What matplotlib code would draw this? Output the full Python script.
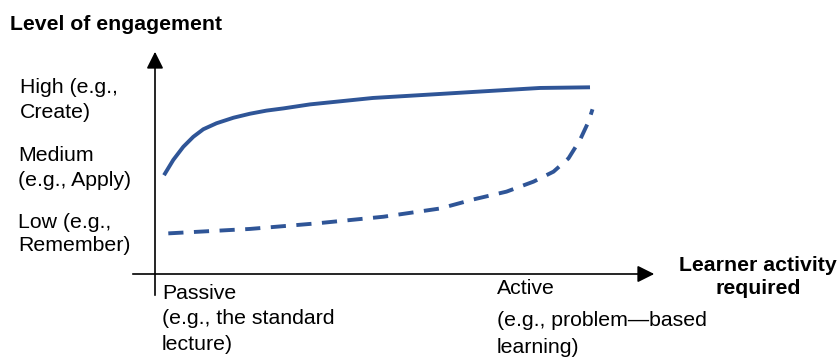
import matplotlib
matplotlib.use("Agg")
import matplotlib.pyplot as plt
from matplotlib.patches import FancyArrowPatch
from matplotlib.transforms import Affine2D

plt.rcParams['font.family'] = ['Liberation Sans', 'DejaVu Sans']

# Data (activity 0-100, engagement 0-100)
solid_x = [1.8, 3.66, 5.66, 7.66, 9.66, 12.3, 15.7, 19.0, 22.3, 25.7, 31.0, 43.6, 57.0, 63.6, 77.0, 87.0]
solid_y = [44.5, 51.4, 57.3, 61.8, 65.2, 67.9, 70.4, 72.2, 73.6, 74.6, 76.4, 79.3, 81.1, 82.0, 83.8, 84.1]
dash_x = [2.66, 19.0, 32.3, 45.7, 57.0, 63.7, 70.3, 75.7, 79.7, 82.7, 85.0, 86.7, 87.5]
dash_y = [18.3, 20.3, 22.8, 25.8, 29.5, 33.6, 37.1, 41.6, 46.1, 52.1, 60.4, 68.6, 74.2]

y_labels = ["High (e.g.,\nCreate)", "Medium\n(e.g., Apply)", "Low (e.g.,\nRemember)"]
x_labels = ["Passive\n(e.g., the standard\nlecture)", "Active", "(e.g., problem\u2014based\nlearning)"]
y_title = "Level of engagement"
x_title = "Learner activity\nrequired"

W, H = 838, 359
fig = plt.figure(figsize=(W/100, H/100), dpi=100)
color = '#2f5597'

# axes region in pixels: x 155..655, y 274 (bottom)..52 (top)
ax = fig.add_axes([155/W, (H-274)/H, 500/W, 222/H])
ax.set_xlim(0, 100)
ax.set_ylim(0, 100)
ax.axis('off')
ax.plot(solid_x, solid_y, color=color, lw=2.8, solid_capstyle='butt', solid_joinstyle='round')
ax.plot(dash_x, dash_y, color=color, lw=2.8, linestyle=(0, (3.9, 2.7)), dash_joinstyle='round')

# pixel transform (origin top-left)
pix = Affine2D().scale(1/W, -1/H).translate(0, 1) + fig.transFigure

# axes arrows
fig.add_artist(FancyArrowPatch((155, 298), (155, 49), transform=pix,
               arrowstyle='-|>,head_length=6,head_width=3', color='black', lw=1.2, mutation_scale=1.7))
fig.add_artist(FancyArrowPatch((130, 274), (657, 274), transform=pix,
               arrowstyle='-|>,head_length=6,head_width=3', color='black', lw=1.2, mutation_scale=1.7))

fs = 15.3
fig.text(10, 25, y_title, transform=pix, fontsize=fs, fontweight='bold', va='center', ha='left')
fig.text(20, 100, y_labels[0], transform=pix, fontsize=fs, va='center', ha='left', linespacing=1.37)
fig.text(18, 168, y_labels[1], transform=pix, fontsize=fs, va='center', ha='left', linespacing=1.45)
fig.text(18, 234, y_labels[2], transform=pix, fontsize=fs, va='center', ha='left', linespacing=1.32)
fig.text(758, 277, x_title, transform=pix, fontsize=fs, fontweight='bold', va='center', ha='center', linespacing=1.31)
fig.text(162, 319, x_labels[0], transform=pix, fontsize=fs, va='center', ha='left', linespacing=1.42)
fig.text(497, 289, x_labels[1], transform=pix, fontsize=fs, va='center', ha='left')
fig.text(497, 334, x_labels[2], transform=pix, fontsize=fs, va='center', ha='left', linespacing=1.48)

fig.savefig('out.png', dpi=100)
